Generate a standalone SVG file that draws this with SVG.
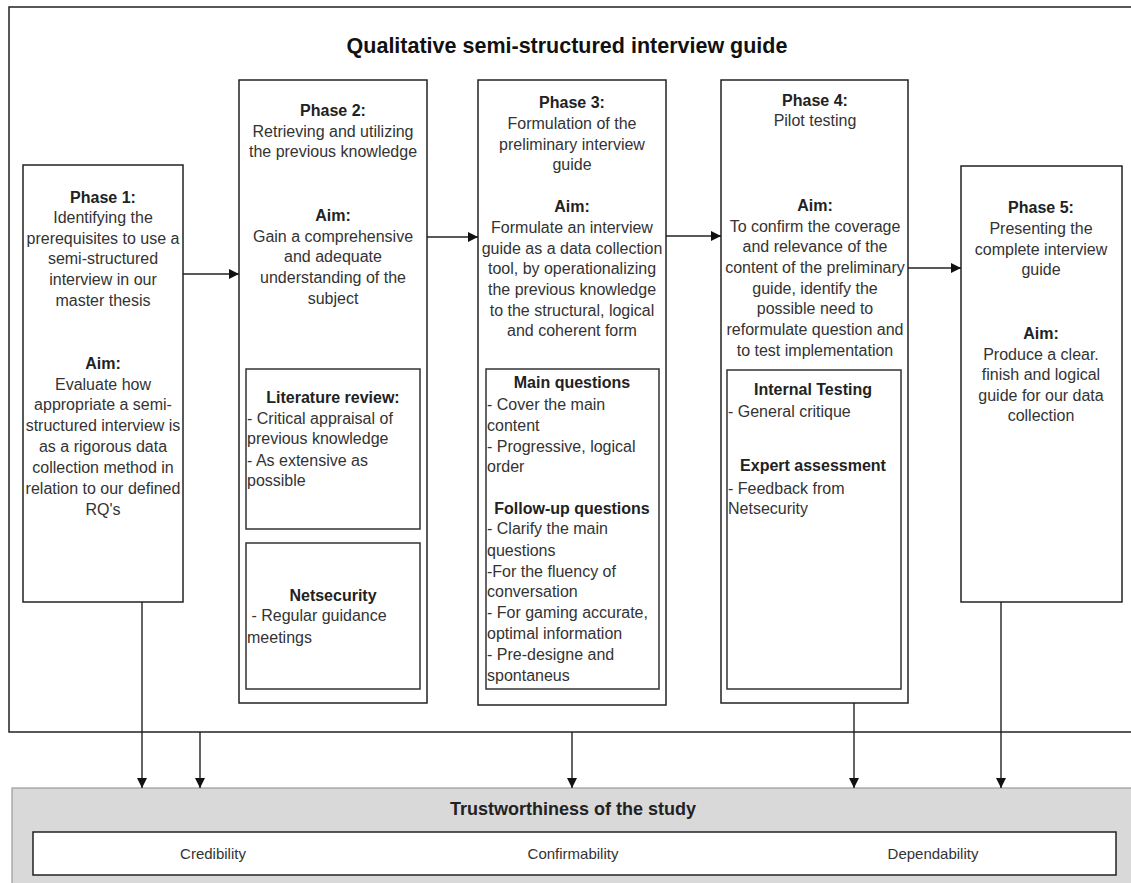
<svg xmlns="http://www.w3.org/2000/svg" width="1131" height="883" viewBox="0 0 1131 883">
  <style>
    text { font-family: "Liberation Sans", Arial, sans-serif; fill: #333; }
    .body { font-size: 16px; }
    .c { text-anchor: middle; }
    .b { font-weight: bold; fill: #222; }
    .title { font-size: 21.5px; font-weight: bold; fill: #111; text-anchor: middle; }
    .box { fill: #fff; stroke: #222; stroke-width: 1.5; }
    .inner { fill: #fff; stroke: #333; stroke-width: 1.5; }
    .frame { fill: #fff; stroke: #222; stroke-width: 1.5; }
    .conn { stroke: #222; stroke-width: 1.4; fill: none; marker-end: url(#arrow); }
  </style>
  <defs>
    <marker id="arrow" markerUnits="userSpaceOnUse" markerWidth="10" markerHeight="10" viewBox="0 0 10 10" refX="10" refY="5" orient="auto">
      <path d="M0,0 L10,5 L0,10 z" fill="#111"/>
    </marker>
  </defs>

  <!-- outer frame and heading -->
  <g id="guide-frame">
    <rect class="frame" x="9" y="7" width="1130" height="725"/>
    <text class="title" x="567" y="53">Qualitative semi-structured interview guide</text>
  </g>

  <!-- Phase 1 -->
  <g id="phase1" class="body">
    <rect class="box" x="23" y="165" width="160" height="437"/>
    <text class="c b" x="103" y="203">Phase 1:</text>
    <text class="c" x="103" y="223">Identifying the</text>
    <text class="c" x="103" y="244">prerequisites to use a</text>
    <text class="c" x="103" y="264">semi-structured</text>
    <text class="c" x="103" y="285">interview in our</text>
    <text class="c" x="103" y="306">master thesis</text>
    <text class="c b" x="103" y="369">Aim:</text>
    <text class="c" x="103" y="390">Evaluate how</text>
    <text class="c" x="103" y="410">appropriate a semi-</text>
    <text class="c" x="103" y="431">structured interview is</text>
    <text class="c" x="103" y="452">as a rigorous data</text>
    <text class="c" x="103" y="473">collection method in</text>
    <text class="c" x="103" y="494">relation to our defined</text>
    <text class="c" x="103" y="515">RQ's</text>
  </g>

  <!-- Phase 2 -->
  <g id="phase2" class="body">
    <rect class="box" x="239" y="80" width="188" height="623"/>
    <text class="c b" x="333" y="116">Phase 2:</text>
    <text class="c" x="333" y="137">Retrieving and utilizing</text>
    <text class="c" x="333" y="157">the previous knowledge</text>
    <text class="c b" x="333" y="221">Aim:</text>
    <text class="c" x="333" y="242">Gain a comprehensive</text>
    <text class="c" x="333" y="262">and adequate</text>
    <text class="c" x="333" y="283">understanding of the</text>
    <text class="c" x="333" y="304">subject</text>
  </g>
  <g id="literature-review" class="body">
    <rect class="inner" x="246" y="369" width="174" height="160"/>
    <text class="c b" x="333" y="403">Literature review:</text>
    <text x="247" y="424">- Critical appraisal of</text>
    <text x="247" y="444">previous knowledge</text>
    <text x="247" y="466">- As extensive as</text>
    <text x="247" y="486">possible</text>
  </g>
  <g id="netsecurity" class="body">
    <rect class="inner" x="246" y="543" width="174" height="146"/>
    <text class="c b" x="333" y="601">Netsecurity</text>
    <text x="247" y="621" xml:space="preserve"> - Regular guidance</text>
    <text x="247" y="643">meetings</text>
  </g>

  <!-- Phase 3 -->
  <g id="phase3" class="body">
    <rect class="box" x="478" y="80" width="188" height="625"/>
    <text class="c b" x="572" y="108">Phase 3:</text>
    <text class="c" x="572" y="129">Formulation of the</text>
    <text class="c" x="572" y="150">preliminary interview</text>
    <text class="c" x="572" y="170">guide</text>
    <text class="c b" x="572" y="212">Aim:</text>
    <text class="c" x="572" y="233">Formulate an interview</text>
    <text class="c" x="572" y="254">guide as a data collection</text>
    <text class="c" x="572" y="274">tool, by operationalizing</text>
    <text class="c" x="572" y="295">the previous knowledge</text>
    <text class="c" x="572" y="316">to the structural, logical</text>
    <text class="c" x="572" y="336">and coherent form</text>
  </g>
  <g id="questions" class="body">
    <rect class="inner" x="486" y="369" width="173" height="320"/>
    <text class="c b" x="572" y="388">Main questions</text>
    <text x="487" y="410">- Cover the main</text>
    <text x="487" y="431">content</text>
    <text x="487" y="452">- Progressive, logical</text>
    <text x="487" y="472">order</text>
    <text class="c b" x="572" y="514">Follow-up questions</text>
    <text x="487" y="534">- Clarify the main</text>
    <text x="487" y="556">questions</text>
    <text x="487" y="577">-For the fluency of</text>
    <text x="487" y="597">conversation</text>
    <text x="487" y="618">- For gaming accurate,</text>
    <text x="487" y="639">optimal information</text>
    <text x="487" y="660">- Pre-designe and</text>
    <text x="487" y="681">spontaneus</text>
  </g>

  <!-- Phase 4 -->
  <g id="phase4" class="body">
    <rect class="box" x="721" y="80" width="187" height="623"/>
    <text class="c b" x="815" y="106">Phase 4:</text>
    <text class="c" x="815" y="126">Pilot testing</text>
    <text class="c b" x="815" y="211">Aim:</text>
    <text class="c" x="815" y="232">To confirm the coverage</text>
    <text class="c" x="815" y="252">and relevance of the</text>
    <text class="c" x="815" y="273">content of the preliminary</text>
    <text class="c" x="815" y="294">guide, identify the</text>
    <text class="c" x="815" y="314">possible need to</text>
    <text class="c" x="815" y="335">reformulate question and</text>
    <text class="c" x="815" y="356">to test implementation</text>
  </g>
  <g id="testing" class="body">
    <rect class="inner" x="727" y="370" width="174" height="319"/>
    <text class="c b" x="813" y="395">Internal Testing</text>
    <text x="728" y="417">- General critique</text>
    <text class="c b" x="813" y="471">Expert assessment</text>
    <text x="728" y="494">- Feedback from</text>
    <text x="728" y="514">Netsecurity</text>
  </g>

  <!-- Phase 5 -->
  <g id="phase5" class="body">
    <rect class="box" x="961" y="166" width="161" height="436"/>
    <text class="c b" x="1041" y="213">Phase 5:</text>
    <text class="c" x="1041" y="234">Presenting the</text>
    <text class="c" x="1041" y="255">complete interview</text>
    <text class="c" x="1041" y="275">guide</text>
    <text class="c b" x="1041" y="339">Aim:</text>
    <text class="c" x="1041" y="360">Produce a clear.</text>
    <text class="c" x="1041" y="380">finish and logical</text>
    <text class="c" x="1041" y="401">guide for our data</text>
    <text class="c" x="1041" y="421">collection</text>
  </g>

  <!-- Trustworthiness panel -->
  <g id="trustworthiness">
    <rect x="12" y="788" width="1130" height="110" fill="#d9d9d9" stroke="#9a9a9a" stroke-width="1.2"/>
    <text class="c b" x="573" y="815" font-size="18">Trustworthiness of the study</text>
    <rect x="33" y="832" width="1083" height="43" fill="#fff" stroke="#222" stroke-width="1.5"/>
    <text class="c" x="213" y="859" font-size="15">Credibility</text>
    <text class="c" x="573" y="859" font-size="15">Confirmability</text>
    <text class="c" x="933" y="859" font-size="15">Dependability</text>
  </g>

  <!-- connectors -->
  <g id="connectors">
    <path class="conn" d="M183,274 L239,274"/>
    <path class="conn" d="M427,237 L478,237"/>
    <path class="conn" d="M666,236 L721,236"/>
    <path class="conn" d="M908,268 L961,268"/>
    <path class="conn" d="M142,602 L142,788"/>
    <path class="conn" d="M200,732 L200,788"/>
    <path class="conn" d="M572,732 L572,788"/>
    <path class="conn" d="M854,703 L854,788"/>
    <path class="conn" d="M1001,602 L1001,788"/>
  </g>
</svg>
